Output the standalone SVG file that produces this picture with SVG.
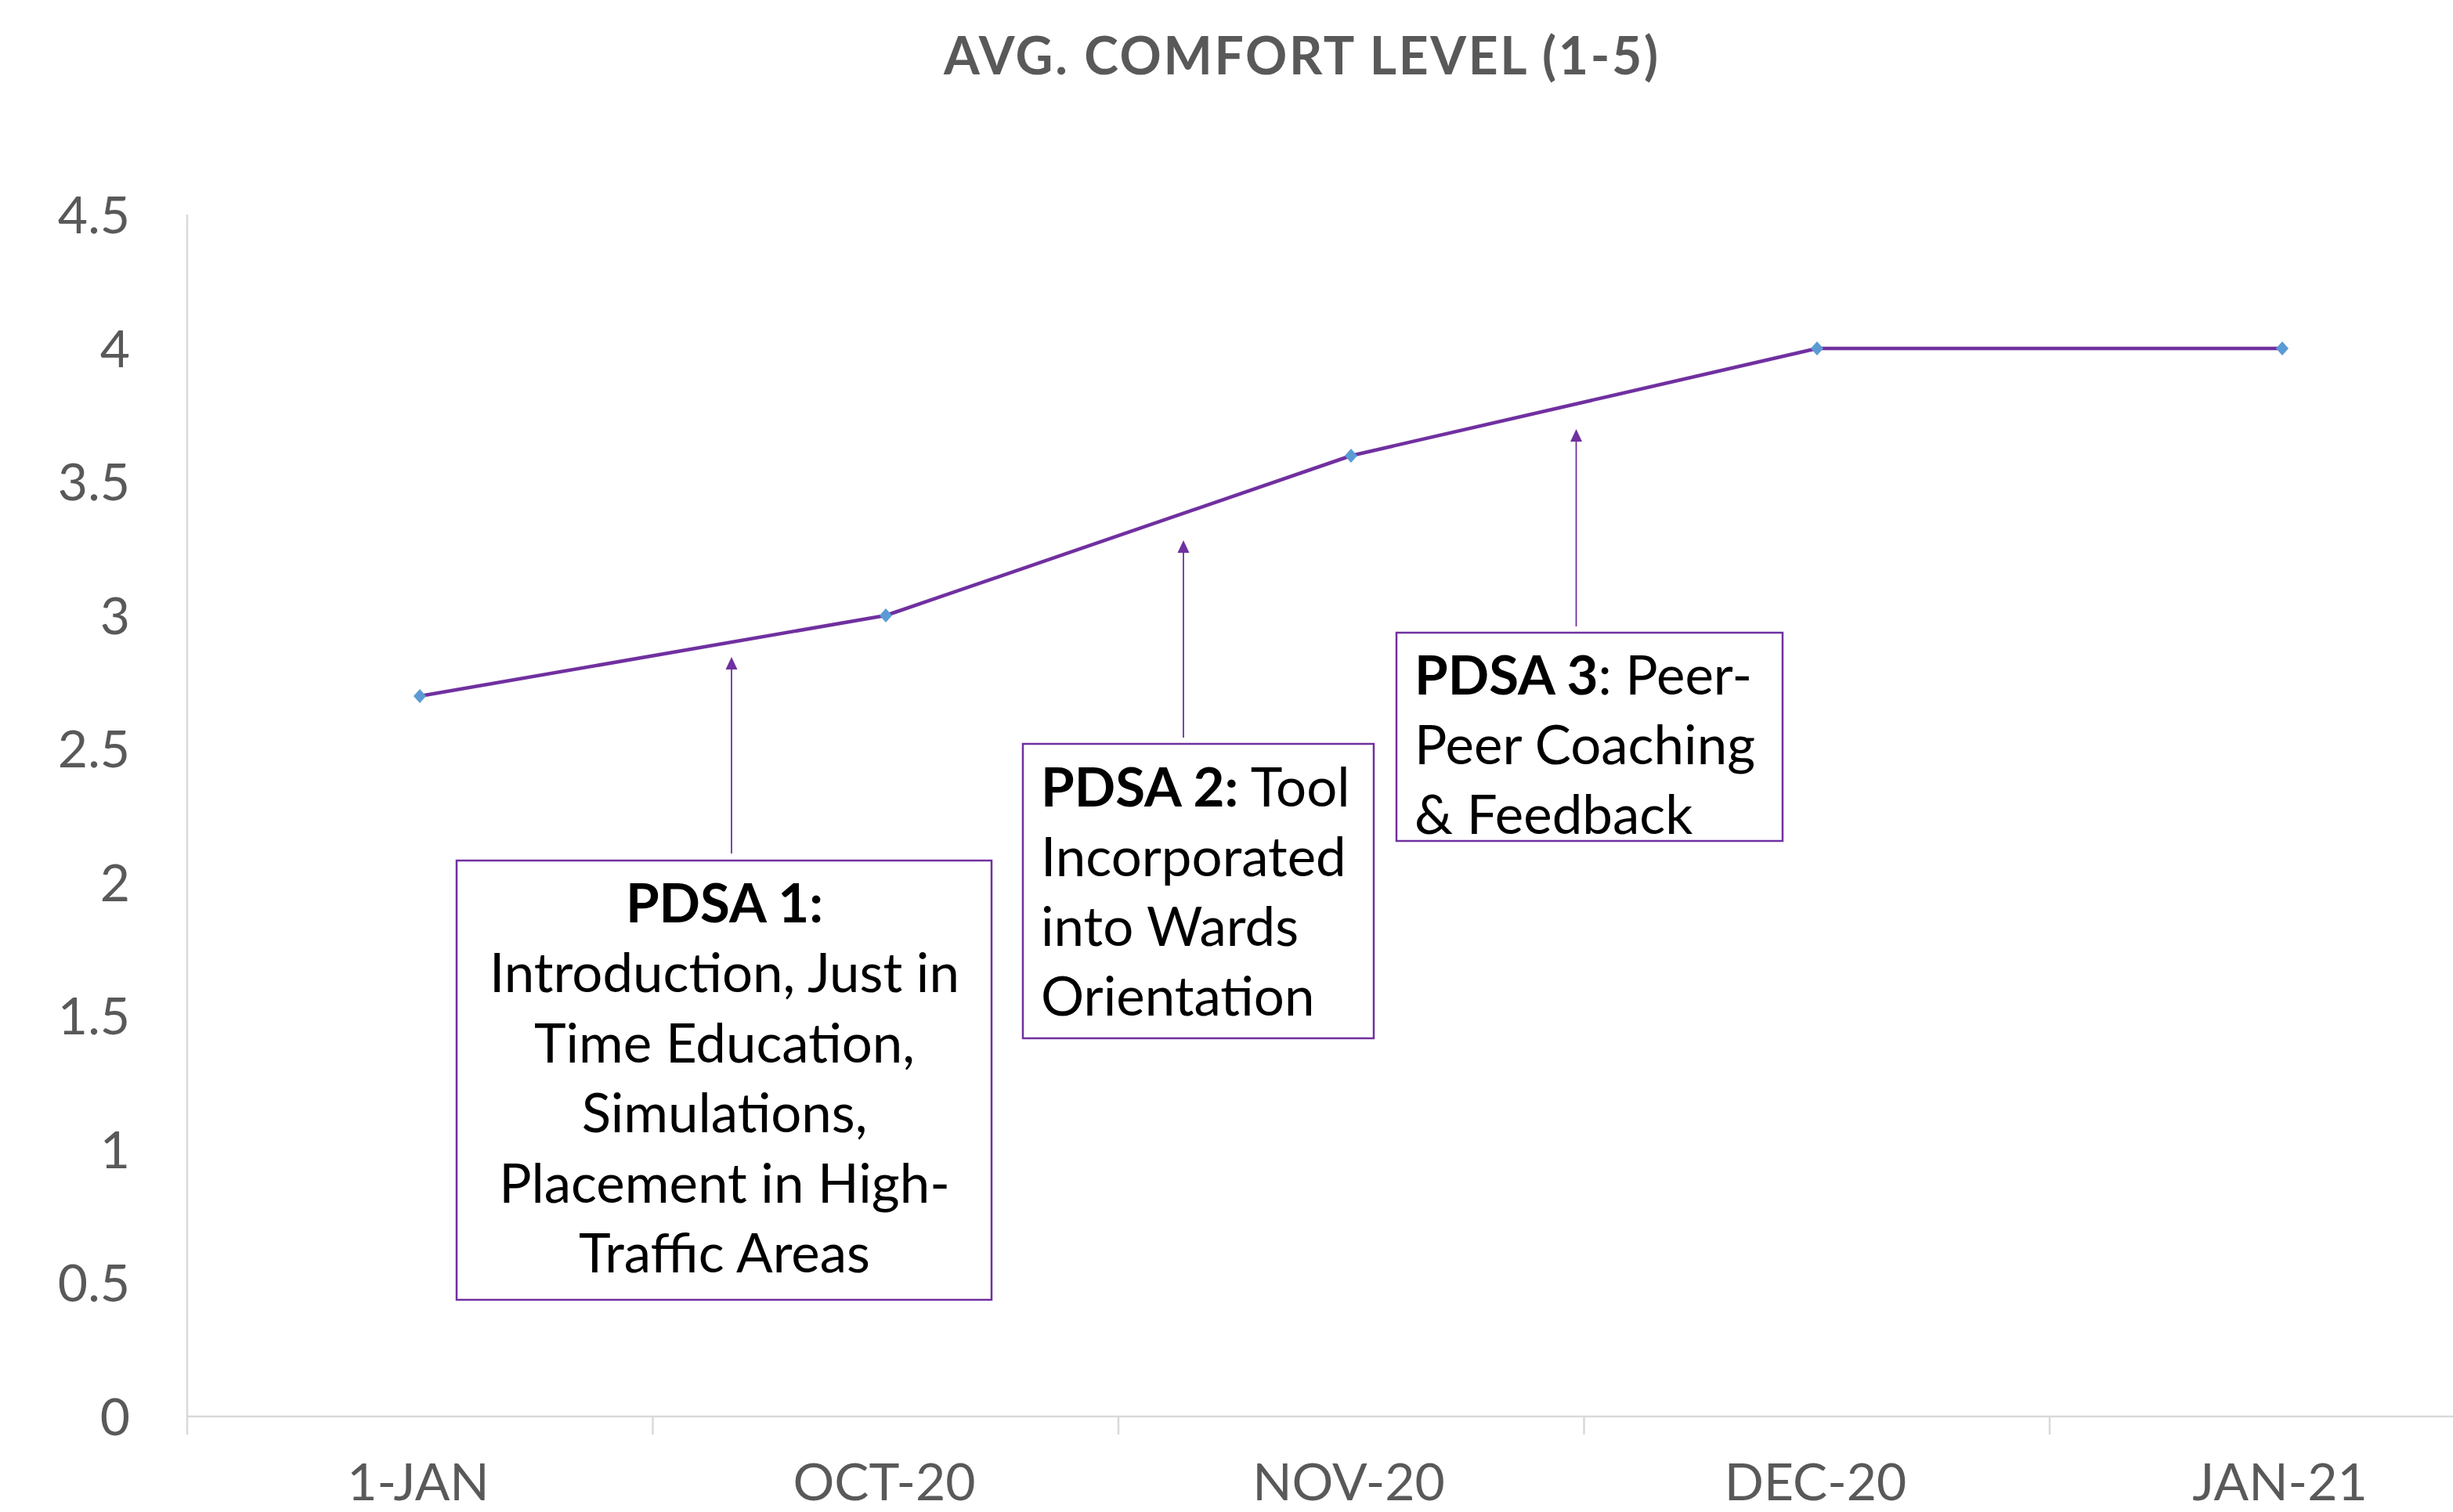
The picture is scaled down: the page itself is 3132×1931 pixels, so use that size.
<svg xmlns="http://www.w3.org/2000/svg" xmlns:xlink="http://www.w3.org/1999/xlink" width="3132" height="1931" viewBox="0 0 3132 1931">
<style>
text{font-family:Lato,"Open Sans",sans-serif}
.title{font-size:66px;font-weight:bold;fill:#595959}
.ax{font-size:66px;fill:#595959}
.grid{stroke:#D9D9D9;stroke-width:2.5;fill:none}
.series{stroke:#7030A0;stroke-width:4.5;fill:none;stroke-linejoin:round}
.box{fill:#FFFFFF;stroke:#7030A0;stroke-width:2.5}
.bt{font-size:69px;fill:#000000}
.b{font-weight:bold}
.arr{stroke:#7030A0;stroke-width:1.8;fill:none}
.head{fill:#7030A0}
.mk{fill:#5B9BD5}
</style>
<defs>
<path id="dm" d="M0,-9 L8,0 L0,9 L-8,0Z"/>
</defs>
<rect width="3132" height="1931" fill="#FFFFFF"/>
<g id="title">
<text class="title" x="1661" y="95" text-anchor="middle" textLength="912" lengthAdjust="spacing">AVG. COMFORT LEVEL (1-5)</text>
</g>
<g id="axes">
<path class="grid" d="M239,274 V1832 M239,1809 H3132 M833.5,1809 V1832 M1428,1809 V1832 M2022.5,1809 V1832 M2617,1809 V1832"/>
<g class="ax" text-anchor="end">
<text x="166" y="298">4.5</text>
<text x="166" y="469">4</text>
<text x="166" y="639">3.5</text>
<text x="166" y="810">3</text>
<text x="166" y="980">2.5</text>
<text x="166" y="1151">2</text>
<text x="166" y="1321">1.5</text>
<text x="166" y="1492">1</text>
<text x="166" y="1662">0.5</text>
<text x="166" y="1833">0</text>
</g>
<g class="ax" text-anchor="middle">
<text x="534" y="1916">1-JAN</text>
<text x="1129" y="1916">OCT-20</text>
<text x="1722" y="1916">NOV-20</text>
<text x="2318" y="1916">DEC-20</text>
<text x="2911" y="1916">JAN-21</text>
</g>
</g>
<g id="series">
<polyline class="series" points="536,889 1131,786 1725,582 2320,445 2914,445"/>
<use href="#dm" class="mk" x="536" y="889"/>
<use href="#dm" class="mk" x="1131" y="786"/>
<use href="#dm" class="mk" x="1725" y="582"/>
<use href="#dm" class="mk" x="2320" y="445"/>
<use href="#dm" class="mk" x="2914" y="445"/>
</g>
<g id="connectors">
<line class="arr" x1="934" y1="1090" x2="934" y2="852"/>
<path class="head" d="M934,839 L941.5,855 L926.5,855Z"/>
<line class="arr" x1="1511" y1="942" x2="1511" y2="703"/>
<path class="head" d="M1511,690 L1518.5,706 L1503.5,706Z"/>
<line class="arr" x1="2012.5" y1="800" x2="2012.5" y2="561"/>
<path class="head" d="M2012.5,548 L2020,564 L2005,564Z"/>
</g>
<g id="pdsa1">
<rect class="box" x="583" y="1099" width="683" height="561"/>
<g class="bt" text-anchor="middle">
<text x="925" y="1178" class="b">PDSA 1:</text>
<text x="925" y="1267">Introduction, Just in</text>
<text x="925" y="1357">Time Education,</text>
<text x="925" y="1446">Simulations,</text>
<text x="925" y="1536">Placement in High-</text>
<text x="925" y="1625">Traffic Areas</text>
</g>
</g>
<g id="pdsa2">
<rect class="box" x="1306" y="950" width="448" height="376"/>
<g class="bt">
<text x="1329" y="1030"><tspan class="b">PDSA 2:</tspan> Tool</text>
<text x="1329" y="1119">Incorporated</text>
<text x="1329" y="1208">into Wards</text>
<text x="1329" y="1297">Orientation</text>
</g>
</g>
<g id="pdsa3">
<rect class="box" x="1783" y="808" width="493" height="266"/>
<g class="bt">
<text x="1806" y="887"><tspan class="b">PDSA 3</tspan>: Peer-</text>
<text x="1806" y="976">Peer Coaching</text>
<text x="1806" y="1065">&amp; Feedback</text>
</g>
</g>
</svg>
